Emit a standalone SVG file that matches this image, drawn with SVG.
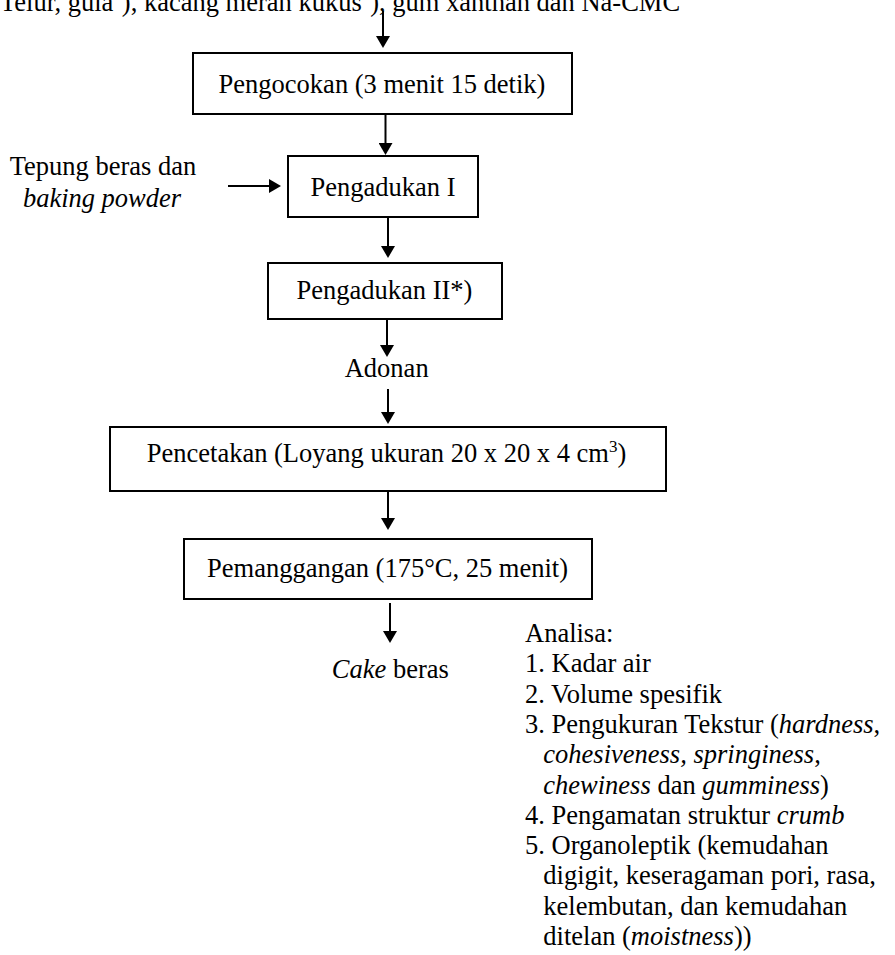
<svg xmlns="http://www.w3.org/2000/svg" width="895" height="955" viewBox="0 0 895 955">
<style>
text{font-family:"Liberation Serif","Times New Roman",serif;font-size:26.5px;fill:#000}
.c{text-anchor:middle}
.i{font-style:italic}
.box{fill:#fff;stroke:#000;stroke-width:2}
.ln{stroke:#000;stroke-width:2;fill:none;marker-end:url(#ah)}
</style>
<defs>
<marker id="ah" markerUnits="userSpaceOnUse" markerWidth="14" markerHeight="14" refX="2" refY="7" orient="auto">
<path d="M0,0 L12,7 L0,14 z" fill="#000"/>
</marker>
</defs>
<rect width="895" height="955" fill="#fff"/>
<g id="input-top">
<text x="0" y="10.5">Telur, gula<tspan font-size="17" dy="-9">*</tspan><tspan dy="9">), kacang merah kukus</tspan><tspan font-size="17" dy="-9">*</tspan><tspan dy="9">), gum xanthan dan Na-CMC</tspan></text>
</g>
<g id="input-left">
<text class="c" x="103" y="175">Tepung beras dan</text>
<text class="c i" x="102" y="206.5">baking powder</text>
</g>
<g id="pengocokan">
<rect class="box" x="193" y="53" width="379" height="61"/>
<text class="c" x="382" y="93">Pengocokan (3 menit 15 detik)</text>
</g>
<g id="pengadukan1">
<rect class="box" x="288" y="156" width="190" height="61"/>
<text class="c" x="383" y="195.5">Pengadukan I</text>
</g>
<g id="pengadukan2">
<rect class="box" x="268" y="263" width="234" height="56"/>
<text class="c" x="384.5" y="298.5">Pengadukan II*)</text>
</g>
<g id="adonan">
<text class="c" x="386.7" y="376.7">Adonan</text>
</g>
<g id="pencetakan">
<rect class="box" x="110" y="427" width="556" height="64"/>
<text class="c" x="386.5" y="461.7">Pencetakan (Loyang ukuran 20 x 20 x 4 cm<tspan font-size="17" dy="-10">3</tspan><tspan dy="10">)</tspan></text>
</g>
<g id="pemanggangan">
<rect class="box" x="184" y="539" width="408" height="60"/>
<text class="c" x="387.5" y="576.7">Pemanggangan (175°C, 25 menit)</text>
</g>
<g id="cake">
<text class="c" x="390.3" y="678.3"><tspan class="i">Cake</tspan> beras</text>
</g>
<g id="analisa">
<text x="525" y="642">Analisa:</text>
<text x="525" y="672.3">1. Kadar air</text>
<text x="525" y="702.6">2. Volume spesifik</text>
<text x="525" y="732.9">3. Pengukuran Tekstur (<tspan class="i">hardness</tspan>,</text>
<text x="543.3" y="763.2"><tspan class="i">cohesiveness, springiness</tspan>,</text>
<text x="543.3" y="793.5"><tspan class="i">chewiness</tspan> dan <tspan class="i">gumminess</tspan>)</text>
<text x="525" y="823.8">4. Pengamatan struktur <tspan class="i">crumb</tspan></text>
<text x="525" y="854.1">5. Organoleptik (kemudahan</text>
<text x="543.3" y="884.4">digigit, keseragaman pori, rasa,</text>
<text x="543.3" y="914.7">kelembutan, dan kemudahan</text>
<text x="543.3" y="945">ditelan (<tspan class="i">moistness</tspan>))</text>
</g>
<g id="connectors">
<line class="ln" x1="383" y1="11" x2="383" y2="38"/>
<line class="ln" x1="385.5" y1="114" x2="385.5" y2="145"/>
<line class="ln" x1="228" y1="186" x2="271" y2="186"/>
<line class="ln" x1="388" y1="217" x2="388" y2="248"/>
<line class="ln" x1="387" y1="319" x2="387" y2="347"/>
<line class="ln" x1="388" y1="389" x2="388" y2="414"/>
<line class="ln" x1="388" y1="491" x2="388" y2="520"/>
<line class="ln" x1="390" y1="603" x2="390" y2="633"/>
</g>
</svg>
